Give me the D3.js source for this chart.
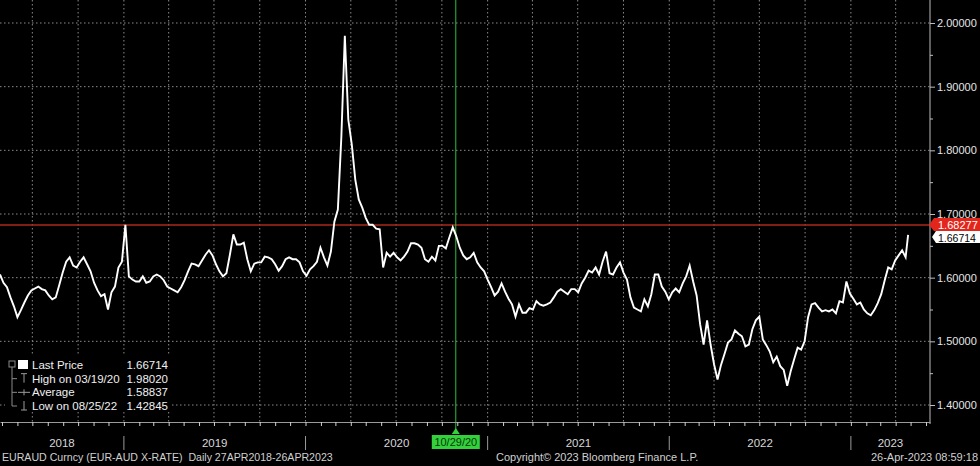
<!DOCTYPE html>
<html lang="en">
<head>
<meta charset="UTF-8">
<title>EURAUD Curncy</title>
<script src="https://d3js.org/d3.v7.min.js"></script>
<style>
  body { margin: 0; background: #000; }
  svg { display: block; font-family: "Liberation Sans", Arial, sans-serif; }
</style>
</head>
<body>
<div id="chart"></div>
<script>
// weekly (Friday) EUR-AUD levels, one array per year
const rate2018 = [1.605, 1.592, 1.585, 1.569, 1.555, 1.538, 1.549, 1.561, 1.572, 1.580, 1.583, 1.586,
  1.582, 1.580, 1.572, 1.566, 1.569, 1.588, 1.608, 1.625, 1.632, 1.619, 1.616, 1.625,
  1.632, 1.621, 1.610, 1.592, 1.580, 1.571, 1.574, 1.550, 1.577, 1.586, 1.616, 1.625];
const rate2019 = [1.683, 1.602, 1.597, 1.594, 1.594, 1.602, 1.592, 1.594, 1.602, 1.605, 1.602, 1.596,
  1.586, 1.583, 1.580, 1.577, 1.585, 1.596, 1.610, 1.622, 1.621, 1.618, 1.627, 1.636,
  1.643, 1.635, 1.621, 1.610, 1.602, 1.607, 1.636, 1.668, 1.652, 1.652, 1.655, 1.629,
  1.610, 1.622, 1.624, 1.624, 1.633, 1.632, 1.629, 1.621, 1.611, 1.618, 1.629, 1.632,
  1.629, 1.629, 1.624, 1.610];
const rate2020 = [1.603, 1.613, 1.618, 1.625, 1.647, 1.632, 1.619, 1.641, 1.688, 1.707, 1.821, 1.980,
  1.848, 1.809, 1.754, 1.723, 1.710, 1.694, 1.683, 1.683, 1.677, 1.676, 1.616, 1.639,
  1.633, 1.639, 1.632, 1.627, 1.633, 1.641, 1.654, 1.654, 1.652, 1.647, 1.629, 1.625,
  1.633, 1.627, 1.650, 1.650, 1.646, 1.663, 1.679, 1.665, 1.647, 1.635, 1.629, 1.632,
  1.639, 1.624, 1.616, 1.610];
const rate2021 = [1.597, 1.585, 1.572, 1.578, 1.591, 1.578, 1.567, 1.558, 1.539, 1.558, 1.545, 1.545,
  1.552, 1.550, 1.563, 1.558, 1.556, 1.558, 1.561, 1.569, 1.578, 1.582, 1.578, 1.574,
  1.582, 1.582, 1.577, 1.591, 1.600, 1.611, 1.608, 1.616, 1.605, 1.625, 1.641, 1.607,
  1.605, 1.616, 1.624, 1.608, 1.597, 1.569, 1.553, 1.550, 1.547, 1.566, 1.555, 1.574,
  1.605, 1.605, 1.586, 1.578, 1.566];
const rate2022 = [1.577, 1.583, 1.577, 1.591, 1.602, 1.619, 1.594, 1.572, 1.527, 1.495, 1.533, 1.495,
  1.464, 1.440, 1.463, 1.480, 1.498, 1.503, 1.517, 1.512, 1.508, 1.492, 1.495, 1.519,
  1.533, 1.539, 1.503, 1.494, 1.484, 1.467, 1.476, 1.461, 1.455, 1.430, 1.453, 1.472,
  1.490, 1.487, 1.500, 1.538, 1.558, 1.560, 1.553, 1.547, 1.549, 1.547, 1.550, 1.544,
  1.563, 1.561, 1.594, 1.575];
const rate2023 = [1.567, 1.558, 1.561, 1.550, 1.544, 1.541, 1.549, 1.560, 1.574, 1.596, 1.616, 1.613,
  1.627, 1.635, 1.643, 1.632];

const lastDate = new Date(2023, 3, 26);
const lastPrice = 1.66714;
const markLevel = 1.68277;
const crossDate = new Date(2020, 9, 29);
const yTicks = [1.4, 1.5, 1.6, 1.7, 1.8, 1.9, 2.0];
const yMinor = [1.45, 1.55, 1.65, 1.75, 1.85, 1.95];
const years = [2018, 2019, 2020, 2021, 2022, 2023];
const legendNames = ["Last Price", "High on 03/19/20", "Average", "Low on 08/25/22"];
const legendValues = ["1.66714", "1.98020", "1.58837", "1.42845"];

const width = 980, height = 466;
const plotRight = 930, axisY = 422;
const start = new Date(2018, 3, 27), end = new Date(2023, 5, 9);

const weeks = d3.timeFriday.range(start, new Date(2023, 3, 22));
const values = [].concat(rate2018, rate2019, rate2020, rate2021, rate2022, rate2023);
const data = values.map((v, i) => ({ date: weeks[i], value: v }));
data.push({ date: lastDate, value: lastPrice });

const x = d3.scaleTime().domain([start, end]).range([0, plotRight]);
const y = d3.scaleLinear().domain([1.4, 2.0]).range([405, 23]);

const svg = d3.select("#chart").append("svg")
    .attr("width", width)
    .attr("height", height);

svg.append("rect").attr("width", width).attr("height", height).attr("fill", "#000");

// dotted grid
svg.append("g").selectAll("line")
    .data(yTicks)
    .join("line")
    .attr("x1", 0).attr("x2", plotRight)
    .attr("y1", d => y(d)).attr("y2", d => y(d))
    .attr("stroke", "#8a8a8a").attr("stroke-width", 1)
    .attr("stroke-dasharray", "1.5,2.5");

svg.append("g").selectAll("line")
    .data(d3.timeMonth.every(3).range(start, end))
    .join("line")
    .attr("x1", d => x(d)).attr("x2", d => x(d))
    .attr("y1", 0).attr("y2", axisY)
    .attr("stroke", "#8a8a8a").attr("stroke-width", 1)
    .attr("stroke-dasharray", "1.5,2.5");

// reference level
svg.append("line")
    .attr("x1", 0).attr("x2", plotRight)
    .attr("y1", y(markLevel)).attr("y2", y(markLevel))
    .attr("stroke", "#a8281d").attr("stroke-width", 1.5);

// crosshair
svg.append("line")
    .attr("x1", x(crossDate)).attr("x2", x(crossDate))
    .attr("y1", 0).attr("y2", 430)
    .attr("stroke", "#2fbf3a").attr("stroke-width", 1);

// price line
svg.append("path")
    .datum(data)
    .attr("fill", "none")
    .attr("stroke", "#fff")
    .attr("stroke-width", 1.9)
    .attr("stroke-linejoin", "miter")
    .attr("d", d3.line().x(d => x(d.date)).y(d => y(d.value)));

// right axis
svg.append("line")
    .attr("x1", plotRight).attr("x2", plotRight)
    .attr("y1", 0).attr("y2", axisY + 2)
    .attr("stroke", "#bdbdbd");

const yAxis = svg.append("g")
    .attr("transform", `translate(${plotRight},0)`)
    .call(d3.axisRight(y).tickValues(yTicks).tickFormat(d3.format(".5f")).tickSize(5).tickPadding(2));
yAxis.select(".domain").remove();
yAxis.selectAll("line").attr("stroke", "#bdbdbd");
yAxis.selectAll("text").attr("fill", "#e6e6e6").attr("font-size", 11)
    .attr("font-family", "'Liberation Sans', Arial, sans-serif");

const yMinorAxis = svg.append("g")
    .attr("transform", `translate(${plotRight},0)`)
    .call(d3.axisRight(y).tickValues(yMinor).tickFormat("").tickSize(3));
yMinorAxis.select(".domain").remove();
yMinorAxis.selectAll("line").attr("stroke", "#bdbdbd");

// bottom axis with monthly ticks
const xAxis = svg.append("g")
    .attr("transform", `translate(0,${axisY})`)
    .call(d3.axisBottom(x).ticks(d3.timeMonth.every(1)).tickFormat("").tickSize(4).tickSizeOuter(0));
xAxis.select(".domain").attr("stroke", "#9a9a9a");
xAxis.selectAll("line").attr("stroke", "#d0d0d0");

// year labels and separators
const yearStarts = years.map(yr => new Date(yr, 0, 1));
svg.append("g").selectAll("line")
    .data(yearStarts.slice(1))
    .join("line")
    .attr("x1", d => x(d)).attr("x2", d => x(d))
    .attr("y1", 436).attr("y2", 450)
    .attr("stroke", "#9a9a9a").attr("stroke-width", 1);

svg.append("g").selectAll("text")
    .data(years)
    .join("text")
    .attr("x", yr => {
      const a = Math.max(0, x(new Date(yr, 0, 1)));
      const b = Math.min(plotRight, x(new Date(yr + 1, 0, 1)));
      return (a + b) / 2;
    })
    .attr("y", 447)
    .attr("text-anchor", "middle")
    .attr("fill", "#d8d8d8")
    .attr("font-size", 11.5)
    .text(yr => yr);

// crosshair date label
const cx = x(crossDate);
svg.append("path")
    .attr("d", `M${cx - 4},434 L${cx},428 L${cx + 4},434 Z`)
    .attr("fill", "#33d13c");
svg.append("rect")
    .attr("x", cx - 24).attr("y", 435)
    .attr("width", 48).attr("height", 14)
    .attr("fill", "#33d13c");
svg.append("text")
    .attr("x", cx).attr("y", 446)
    .attr("text-anchor", "middle")
    .attr("fill", "#0a3a0a")
    .attr("font-size", 11)
    .text(d3.timeFormat("%m/%d/%y")(crossDate));

// value tags on the right
const ly = y(lastPrice) + 2, my = y(markLevel);
svg.append("path")
    .attr("d", `M${plotRight + 2},${ly} L${plotRight + 6},${ly - 6} L${width},${ly - 6} L${width},${ly + 6} L${plotRight + 6},${ly + 6} Z`)
    .attr("fill", "#fff");
svg.append("text")
    .attr("x", plotRight + 8).attr("y", ly + 5)
    .attr("fill", "#000").attr("font-size", 10.5)
    .text(lastPrice.toFixed(5));
svg.append("path")
    .attr("d", `M${plotRight - 1},${my} L${plotRight + 4},${my - 7} L${width},${my - 7} L${width},${my + 6} L${plotRight + 4},${my + 6} Z`)
    .attr("fill", "#e3261c");
svg.append("text")
    .attr("x", plotRight + 8).attr("y", my + 4)
    .attr("fill", "#fff").attr("font-size", 11)
    .text(markLevel.toFixed(5));

// legend
const lg = svg.append("g");
lg.append("rect")
    .attr("x", 5).attr("y", 355).attr("width", 167).attr("height", 57)
    .attr("fill", "#000");
const rowY = d3.scaleLinear().domain([0, 3]).range([365, 406]);
// tree lines
lg.append("rect").attr("x", 9).attr("y", 361).attr("width", 6).attr("height", 6)
    .attr("fill", "none").attr("stroke", "#8a8a8a");
lg.append("line").attr("x1", 12).attr("x2", 12).attr("y1", 367).attr("y2", rowY(3))
    .attr("stroke", "#8a8a8a");
lg.selectAll(".branch")
    .data([1, 2, 3])
    .join("line")
    .attr("x1", 12).attr("x2", 17)
    .attr("y1", i => rowY(i)).attr("y2", i => rowY(i))
    .attr("stroke", "#8a8a8a");
lg.append("rect").attr("x", 18).attr("y", 360).attr("width", 10).attr("height", 9).attr("fill", "#fff");
// high icon
lg.append("path").attr("d", `M21,${rowY(1) - 5} H27 M24,${rowY(1) - 5} V${rowY(1) + 4}`)
    .attr("stroke", "#9a9a9a").attr("fill", "none");
// average icon
lg.append("path").attr("d", `M18,${rowY(2)} H30 M24,${rowY(2) - 3} V${rowY(2) + 3}`)
    .attr("stroke", "#9a9a9a").attr("fill", "none");
// low icon
lg.append("path").attr("d", `M21,${rowY(3) + 4} H27 M24,${rowY(3) - 5} V${rowY(3) + 4}`)
    .attr("stroke", "#9a9a9a").attr("fill", "none");

lg.selectAll(".lname")
    .data(legendNames)
    .join("text")
    .attr("x", 32).attr("y", (d, i) => rowY(i) + 4)
    .attr("fill", "#f0f0f0").attr("font-size", 11.5)
    .text(d => d);
lg.selectAll(".lval")
    .data(legendValues)
    .join("text")
    .attr("x", 168).attr("y", (d, i) => rowY(i) + 4)
    .attr("text-anchor", "end")
    .attr("fill", "#f0f0f0").attr("font-size", 11.5)
    .text(d => d);

// footer
const foot = svg.append("g").attr("fill", "#d0d0d0").attr("font-size", 11);
foot.append("text").attr("x", 2).attr("y", 461)
    .attr("font-size", 10.6)
    .text("EURAUD Curncy (EUR-AUD X-RATE)  Daily 27APR2018-26APR2023")
    .attr("xml:space", "preserve");
foot.append("text").attr("x", 496).attr("y", 461)
    .text("Copyright\u00a9 2023 Bloomberg Finance L.P.");
foot.append("text").attr("x", 978).attr("y", 461).attr("text-anchor", "end")
    .text("26-Apr-2023 08:59:18");
</script>
</body>
</html>
